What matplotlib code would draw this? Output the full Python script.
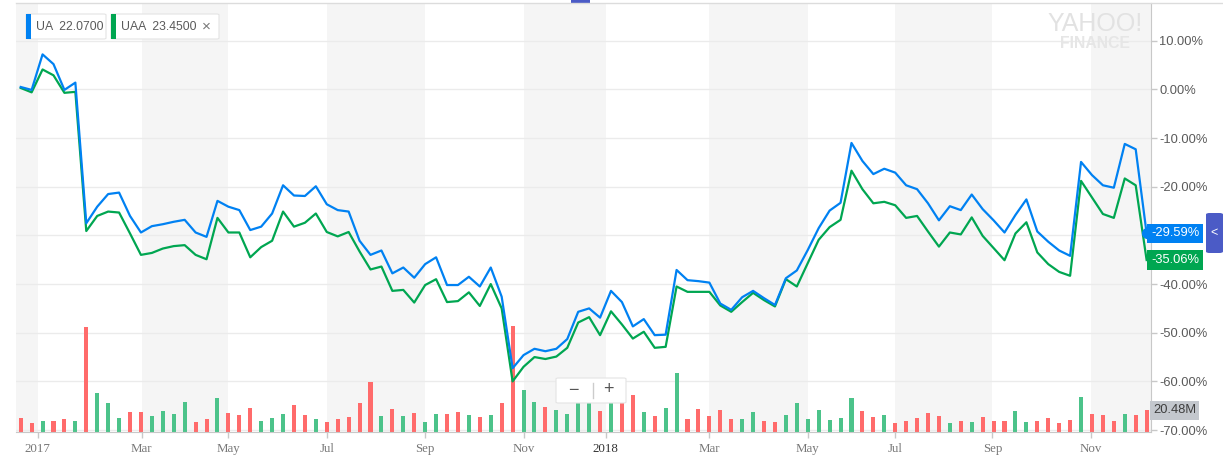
import numpy as np
import matplotlib
matplotlib.use('Agg')
from matplotlib import pyplot as plt
from matplotlib import transforms as mtrans
from matplotlib.patches import Rectangle, FancyBboxPatch
from matplotlib.lines import Line2D

plt.rcParams['font.family'] = ['Liberation Sans', 'DejaVu Sans']
plt.rcParams['axes.unicode_minus'] = False

# weekly % change since start
ua = [0.5, -0.1, 7.2, 5.2, -0.1, 1.4, -27.5, -24.1, -21.5, -21.2,
      -26.0, -29.4, -28.1, -27.7, -27.2, -26.8, -29.4, -30.3, -22.9, -24.1,
      -24.8, -28.9, -28.2, -25.5, -19.7, -21.8, -21.9, -19.9, -23.6, -24.8,
      -25.1, -31.1, -34.0, -33.1, -37.8, -36.6, -38.7, -35.9, -34.5, -40.2,
      -40.2, -38.5, -40.5, -36.6, -42.6, -57.3, -54.6, -53.3, -53.8, -53.3,
      -51.3, -45.7, -45.0, -46.9, -41.4, -43.7, -48.7, -47.2, -50.5, -50.4,
      -37.1, -39.2, -39.4, -39.7, -44.0, -45.3, -42.7, -41.4, -42.9, -44.3,
      -38.8, -37.2, -33.0, -28.5, -24.9, -23.3, -11.0, -14.7, -17.4, -16.3,
      -17.1, -19.7, -20.5, -23.4, -26.9, -24.0, -24.8, -21.6, -24.6, -26.9,
      -29.4, -25.8, -22.6, -29.2, -31.3, -33.1, -34.2, -14.9, -17.6, -19.7,
      -20.2, -11.2, -12.3, -29.59]

uaa = [0.3, -0.6, 4.1, 2.9, -0.7, -0.5, -29.1, -26.0, -25.1, -25.3,
       -29.6, -34.0, -33.6, -32.7, -32.2, -32.0, -34.0, -34.9, -26.4, -29.4,
       -29.4, -34.5, -32.4, -31.1, -25.1, -28.2, -27.4, -25.5, -29.3, -30.2,
       -29.3, -33.3, -37.0, -36.4, -41.4, -41.2, -43.8, -40.2, -39.0, -43.7,
       -43.5, -41.7, -44.5, -40.0, -45.0, -60.0, -57.0, -55.0, -55.4, -54.9,
       -53.1, -47.9, -46.8, -50.5, -45.6, -48.3, -51.2, -49.8, -53.1, -52.9,
       -40.5, -41.6, -41.6, -41.6, -44.4, -45.7, -43.7, -41.8, -43.3, -44.6,
       -39.0, -40.5, -35.7, -30.9, -28.3, -26.8, -16.7, -20.5, -23.4, -23.1,
       -23.8, -26.4, -26.0, -29.2, -32.3, -29.4, -29.8, -26.3, -30.1, -32.6,
       -35.1, -29.6, -27.3, -33.5, -35.9, -37.5, -38.3, -18.8, -22.2, -25.6,
       -26.4, -18.3, -19.7, -35.06]

# weekly volume in millions
volume = [12.9, 8.2, 10.1, 10.1, 12.0, 10.1, 98.8, 36.5, 27.1, 12.9,
          18.6, 18.6, 14.8, 19.5, 16.7, 28.0, 9.2, 12.0, 31.8, 17.7,
          15.8, 22.4, 10.1, 12.9, 16.7, 25.2, 15.8, 12.0, 9.2, 12.0,
          13.9, 27.1, 46.9, 14.8, 21.4, 14.8, 17.7, 9.2, 16.7, 16.7,
          18.6, 15.8, 13.9, 15.8, 27.1, 99.8, 39.4, 28.0, 23.3, 20.5,
          16.7, 28.0, 29.0, 19.5, 29.0, 28.0, 34.6, 18.6, 14.8, 22.4,
          55.4, 12.0, 21.4, 14.8, 20.5, 12.0, 12.0, 18.6, 10.1, 9.2,
          15.8, 27.1, 12.0, 20.5, 11.0, 12.9, 31.8, 19.5, 13.9, 15.8,
          8.2, 10.1, 12.9, 17.7, 14.8, 8.2, 10.1, 9.2, 13.9, 10.1,
          10.1, 19.5, 9.2, 10.1, 12.9, 8.2, 11.0, 32.8, 16.7, 15.8,
          10.1, 16.7, 15.8, 20.48]
# r = down week, g = up week
vol_dir = ("rrgrrgrggg" "rrggggrrgr" "rrgggrrgrr" "rrrgrgrggr" "rgrgrrggrg"
           "gggrgrrgrg" "grrrrrggrr" "gggggggrrg" "rrrrrgrgrr" "rggrrrrgrr" "rgrr")

# month ticks sit at these week positions
tick_pos = [1.56, 11.07, 19.0, 28.05, 37.0, 46.0, 53.5, 63.0, 72.0, 80.0, 88.9, 97.9]
tick_lab = ['2017', 'Mar', 'May', 'Jul', 'Sep', 'Nov', '2018', 'Mar', 'May', 'Jul', 'Sep', 'Nov']

blue = '#0081f2'
green = '#00a651'
up_col = '#4cc38a'
down_col = '#ff6b6b'

W, H = 1223, 455
def fx(x):
    return x / W
def fy(y):
    return 1 - y / H

fig = plt.figure(figsize=(W / 100, H / 100), dpi=100)
ax = fig.add_axes([fx(16), fy(432), 1135 / W, 429 / H])

idx = np.arange(len(ua))
xmin, xmax = -0.43, 103.4

# alternating two-month shading
edges = [xmin] + tick_pos + [xmax]
for k in range(0, len(edges) - 1, 2):
    ax.axvspan(edges[k], edges[k + 1], color='#f5f5f5', lw=0, zorder=0)

# volume bars on their own scale at the bottom
vol_top = 405.0
vol_tr = mtrans.blended_transform_factory(
    ax.transData, mtrans.Affine2D().scale(1, 1 / vol_top) + ax.transAxes)
bar_cols = [up_col if c == 'g' else down_col for c in vol_dir]
ax.bar(idx, volume, width=0.37, color=bar_cols, transform=vol_tr, zorder=1)

ax.plot(idx, uaa, color=green, lw=1.6, zorder=3)
ax.plot(idx, ua, color=blue, lw=1.6, zorder=4)
ax.plot(idx[-1], ua[-1], 'o', color=blue, ms=7, zorder=5, clip_on=False)

ax.set_xlim(xmin, xmax)
ax.set_ylim(-70.4, 17.76)

# the -30% label sits under the UA price tag, so leave it blank
def pct(v, p):
    if abs(v + 30) < 0.01:
        return ''
    return '%.2f%%' % v

ax.set_yticks(np.arange(-70, 11, 10))
ax.yaxis.set_major_formatter(matplotlib.ticker.FuncFormatter(pct))
ax.yaxis.tick_right()
ax.set_axisbelow(True)
ax.grid(axis='y', color='#ebebeb', lw=1)
ax.tick_params(axis='y', length=4, width=1, color='#c8c8c8', labelcolor='#5a5a5a',
               labelsize=9.3, pad=2)

ax.set_xticks(tick_pos, tick_lab)
ax.tick_params(axis='x', length=4, width=1, color='#c8c8c8', labelcolor='#777777',
               labelsize=9.3, pad=4)
for lbl in ax.get_xticklabels():
    lbl.set_fontfamily(['Liberation Serif', 'DejaVu Serif'])
    if lbl.get_text() == '2018':
        lbl.set_color('#333333')

for s in ['left', 'top']:
    ax.spines[s].set_visible(False)
for s in ['right', 'bottom']:
    ax.spines[s].set_color('#c8c8c8')

# last value tags
tag_tr = mtrans.blended_transform_factory(ax.transAxes, ax.transData)
ax.text(1.0, ua[-1], '%.2f%%' % ua[-1], transform=tag_tr, ha='left', va='center',
        color='white', fontsize=9.3, zorder=6, clip_on=False,
        bbox=dict(boxstyle='square,pad=0.28', fc=blue, ec='none'))
ax.text(1.0, uaa[-1], '%.2f%%' % uaa[-1], transform=tag_tr, ha='left', va='center',
        color='white', fontsize=9.3, zorder=6, clip_on=False,
        bbox=dict(boxstyle='square,pad=0.28', fc=green, ec='none'))
vtag_tr = mtrans.blended_transform_factory(ax.transAxes, vol_tr)
ax.text(1.002, volume[-1], '%.2fM' % volume[-1], transform=vtag_tr, ha='left', va='center',
        color='#3d3d3d', fontsize=9.3, zorder=6, clip_on=False,
        bbox=dict(boxstyle='square,pad=0.25', fc='#c3c7cd', ec='none'))

# watermark
fig.text(fx(1095), fy(24), 'YAHOO!', ha='center', va='center', fontsize=18,
         color='#e2e2e2')
fig.text(fx(1095), fy(43), 'FINANCE', ha='center', va='center', fontsize=11.3,
         fontweight='bold', color='#e6e6e6')

# frame line at top and small tab markers
fig.add_artist(Line2D([fx(16), 1], [fy(3), fy(3)], color='#dcdcdc', lw=1))
fig.add_artist(Rectangle((fx(571), fy(3)), 19 / W, 3 / H, color='#4b5bc6', lw=0))
fig.add_artist(FancyBboxPatch((fx(1206), fy(253)), 17 / W, 40 / H,
                              boxstyle='round,pad=0,rounding_size=0.003',
                              fc='#4b5bc6', ec='none'))
fig.text(fx(1214), fy(233), '<', ha='center', va='center', color='white', fontsize=9)

# legend chips
chips = [('UA', '22.0700', blue, 26, 80), ('UAA', '23.4500', green, 111, 108)]
for name, price, col, x0, w in chips:
    fig.add_artist(FancyBboxPatch((fx(x0), fy(39)), w / W, 25 / H,
                                  boxstyle='round,pad=0,rounding_size=0.002',
                                  fc='white', ec='#e4e4e4', lw=0.8))
    fig.add_artist(Rectangle((fx(x0), fy(39)), 5 / W, 25 / H, color=col, lw=0))
    fig.text(fx(x0 + 10), fy(27), name + '  ' + price, ha='left', va='center',
             fontsize=8.8, color='#5a5a5a')
fig.text(fx(206), fy(27), '\u00d7', ha='center', va='center', fontsize=11, color='#777777')

# zoom control
fig.add_artist(FancyBboxPatch((fx(556), fy(403)), 70 / W, 25 / H,
                              boxstyle='round,pad=0,rounding_size=0.002',
                              fc='white', ec='#e4e4e4', lw=0.8, zorder=10))
fig.text(fx(573), fy(390), '\u2212', ha='center', va='center', fontsize=13,
         color='#555555', zorder=11)
fig.text(fx(608), fy(390), '+', ha='center', va='center', fontsize=13,
         color='#555555', zorder=11)
fig.add_artist(Line2D([fx(592.5), fx(592.5)], [fy(383), fy(398)], color='#cccccc',
                      lw=1, zorder=11))

fig.savefig('out.png', dpi=100)
